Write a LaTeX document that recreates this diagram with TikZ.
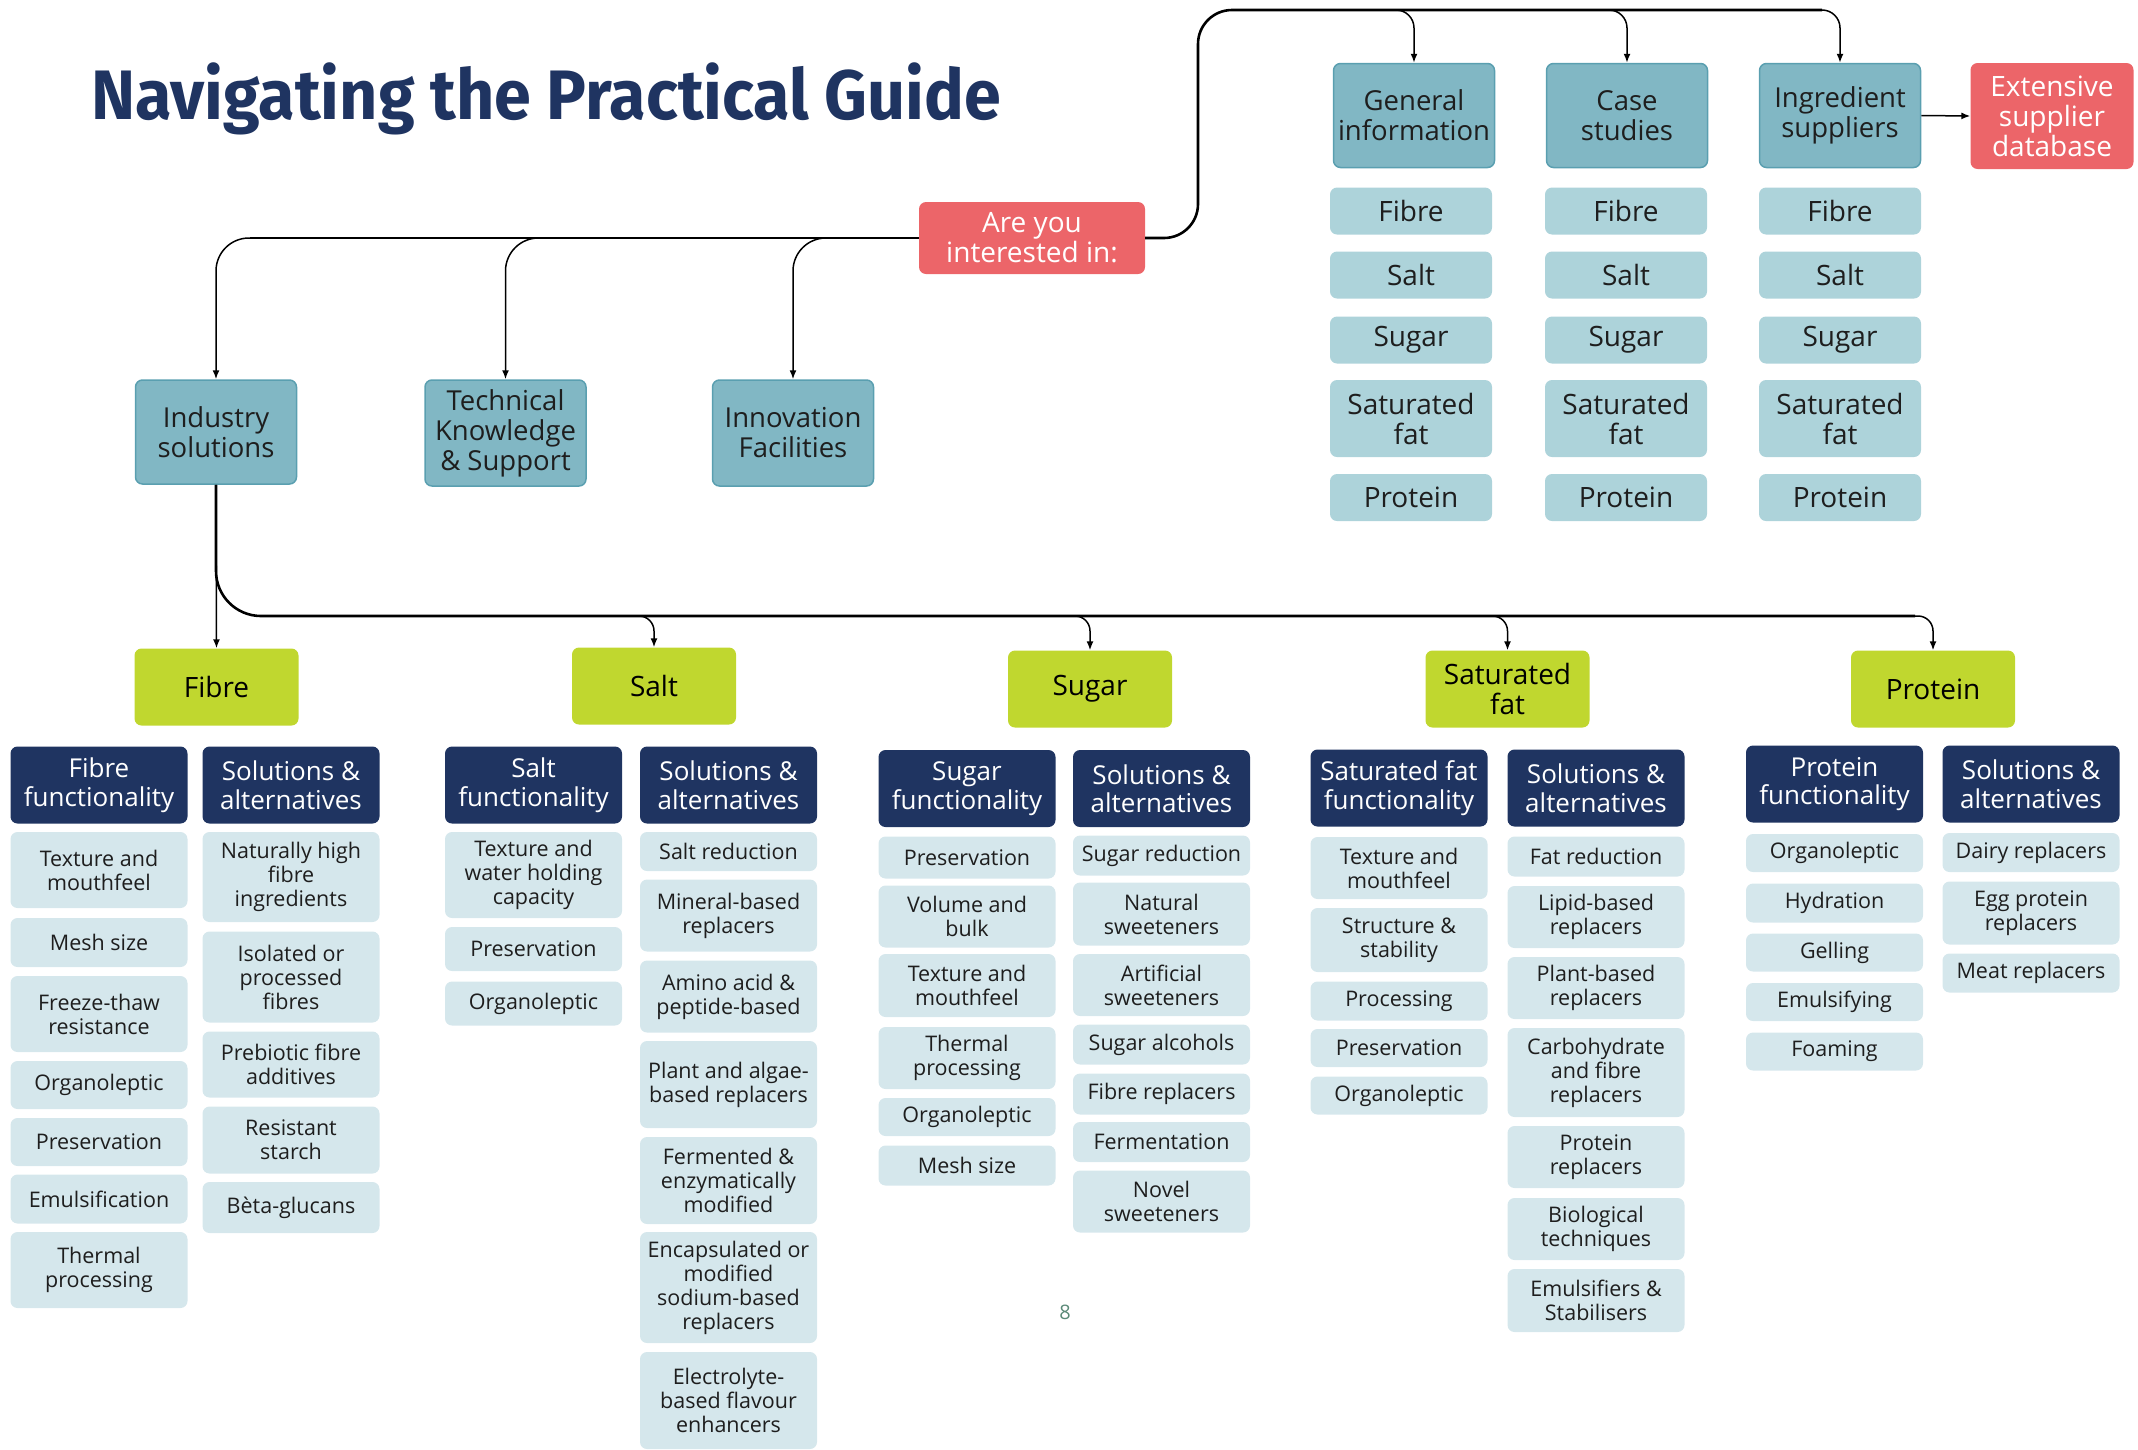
\documentclass[tikz,border=0pt]{standalone}
\usepackage{fontspec}
\setmainfont{Open Sans}
\newfontfamily\titlefont{Fira Sans}[FakeStretch=0.95]
\usetikzlibrary{positioning, arrows.meta}

\definecolor{navy}{HTML}{1F3461}
\definecolor{askred}{HTML}{EC6569}
\definecolor{tealbox}{HTML}{81B7C4}
\definecolor{tealedge}{HTML}{5A9FB0}
\definecolor{subblue}{HTML}{ADD3DA}
\definecolor{paleblue}{HTML}{D5E7EC}
\definecolor{lime}{HTML}{C0D72F}
\definecolor{pagegreen}{HTML}{5B8A78}
\definecolor{ink}{HTML}{1E1E1E}

\begin{document}
\begin{tikzpicture}[
    x=1pt, y=-1pt,
    box/.style={rounded corners=7pt, align=center, inner sep=1pt},
    ask/.style={box, fill=askred, text=white, minimum width=226, minimum height=72, font=\fontsize{28}{30}\selectfont},
    topic/.style={box, fill=tealbox, draw=tealedge, line width=1.5pt, text=ink, minimum width=161, minimum height=104, font=\fontsize{27.5}{30}\selectfont},
    subtopic/.style={box, fill=subblue, text=ink, minimum width=162, minimum height=47, font=\fontsize{28}{30}\selectfont},
    nutrient/.style={box, fill=lime, text=black, minimum width=164, minimum height=77, font=\fontsize{28}{30}\selectfont},
    colhead/.style={box, fill=navy, text=white, minimum width=177, minimum height=77, font=\fontsize{26}{28.5}\selectfont},
    item/.style={box, fill=paleblue, text=ink, minimum width=177, font=\fontsize{21.5}{24}\selectfont},
    link/.style={draw=black, line width=1.5pt, -{Latex[length=9pt,width=7pt]}},
    trunk/.style={draw=black, line width=2.6pt}
]
    \useasboundingbox (0,0) rectangle (2138,1449);

    % Title
    \node[anchor=base west, inner sep=0, text=navy, font=\titlefont\bfseries\fontsize{70}{80}\selectfont] (title) at (91,119) {Navigating the Practical Guide};

    % Question and main topics
    \node[ask] (ask) at (1032,238) {Are you\\interested in:};
    \node[topic] (gen) at (1414,115.5) {General\\information};
    \node[topic] (cas) at (1627,115.5) {Case\\studies};
    \node[topic] (ing) at (1840,115.5) {Ingredient\\suppliers};
    \node[ask, minimum width=163, minimum height=106] (ext) at (2052,116) {Extensive\\supplier\\database};
    \node[topic] (ind) at (216,432) {Industry\\solutions};
    \node[topic, minimum height=106] (tech) at (505.5,433) {Technical\\Knowledge\\\& Support};
    \node[topic, minimum height=106] (inno) at (793,433) {Innovation\\Facilities};

    % Topic columns under the top boxes
    \foreach \col/\x in {gen/1411, cas/1626, ing/1840}{
        \node[subtopic] (\col-fibre) at (\x,211) {Fibre};
        \node[subtopic] (\col-salt) at (\x,275) {Salt};
        \node[subtopic] (\col-sugar) at (\x,340) {Sugar};
        \node[subtopic, minimum height=77] (\col-satfat) at (\x,418.5) {Saturated\\fat};
        \node[subtopic] (\col-protein) at (\x,497.5) {Protein};
    }

    % Nutrients
    \node[nutrient] (fib) at (216.5,687) {Fibre};
    \node[nutrient] (sal) at (654,686) {Salt};
    \node[nutrient] (sug) at (1090,689) {Sugar};
    \node[nutrient] (sfa) at (1507.5,689) {Saturated\\fat};
    \node[nutrient] (pro) at (1933,689) {Protein};

    % Fibre
    \node[colhead] (fibfun) at (99,785) {Fibre\\functionality};
    \node[colhead] (fibsol) at (291,785) {Solutions \&\\alternatives};
    \node[item, minimum height=76] (fibfun1) at (99,870) {Texture and\\mouthfeel};
    \node[item, minimum height=49] (fibfun2) at (99,942.5) {Mesh size};
    \node[item, minimum height=76] (fibfun3) at (99,1014) {Freeze-thaw\\resistance};
    \node[item, minimum height=48] (fibfun4) at (99,1085) {Organoleptic};
    \node[item, minimum height=48] (fibfun5) at (99,1142) {Preservation};
    \node[item, minimum height=49] (fibfun6) at (99,1199) {Emulsification};
    \node[item, minimum height=76] (fibfun7) at (99,1270) {Thermal\\processing};
    \node[item, minimum height=90] (fibsol1) at (291,877) {Naturally high\\fibre\\ingredients};
    \node[item, minimum height=91] (fibsol2) at (291,977) {Isolated or\\processed\\fibres};
    \node[item, minimum height=66] (fibsol3) at (291,1064.5) {Prebiotic fibre\\additives};
    \node[item, minimum height=67] (fibsol4) at (291,1140) {Resistant\\starch};
    \node[item, minimum height=51] (fibsol5) at (291,1207.5) {Bèta-glucans};

    % Salt
    \node[colhead] (salfun) at (533.5,785) {Salt\\functionality};
    \node[colhead] (salsol) at (728.5,785) {Solutions \&\\alternatives};
    \node[item, minimum height=86] (salfun1) at (533.5,875) {Texture and\\water holding\\capacity};
    \node[item, minimum height=44] (salfun2) at (533.5,949) {Preservation};
    \node[item, minimum height=44] (salfun3) at (533.5,1003.5) {Organoleptic};
    \node[item, minimum height=39] (salsol1) at (728.5,851.5) {Salt reduction};
    \node[item, minimum height=72] (salsol2) at (728.5,915.5) {Mineral-based\\replacers};
    \node[item, minimum height=72] (salsol3) at (728.5,996.5) {Amino acid \&\\peptide-based};
    \node[item, minimum height=87] (salsol4) at (728.5,1084.5) {Plant and algae-\\based replacers};
    \node[item, minimum height=87] (salsol5) at (728.5,1180.5) {Fermented \&\\enzymatically\\modified};
    \node[item, minimum height=111] (salsol6) at (728.5,1287.5) {Encapsulated or\\modified\\sodium-based\\replacers};
    \node[item, minimum height=97] (salsol7) at (728.5,1400.5) {Electrolyte-\\based flavour\\enhancers};

    % Sugar
    \node[colhead] (sugfun) at (967,788.5) {Sugar\\functionality};
    \node[colhead] (sugsol) at (1161.5,788.5) {Solutions \&\\alternatives};
    \node[item, minimum height=42] (sugfun1) at (967,857.5) {Preservation};
    \node[item, minimum height=62] (sugfun2) at (967,916.5) {Volume and\\bulk};
    \node[item, minimum height=63] (sugfun3) at (967,985.5) {Texture and\\mouthfeel};
    \node[item, minimum height=62] (sugfun4) at (967,1058) {Thermal\\processing};
    \node[item, minimum height=38] (sugfun5) at (967,1117) {Organoleptic};
    \node[item, minimum height=40] (sugfun6) at (967,1165.5) {Mesh size};
    \node[item, minimum height=40] (sugsol1) at (1161.5,855.5) {Sugar reduction};
    \node[item, minimum height=63] (sugsol2) at (1161.5,914) {Natural\\sweeteners};
    \node[item, minimum height=62] (sugsol3) at (1161.5,985) {Artificial\\sweeteners};
    \node[item, minimum height=40] (sugsol4) at (1161.5,1044.5) {Sugar alcohols};
    \node[item, minimum height=41] (sugsol5) at (1161.5,1094) {Fibre replacers};
    \node[item, minimum height=40] (sugsol6) at (1161.5,1142) {Fermentation};
    \node[item, minimum height=62] (sugsol7) at (1161.5,1201.5) {Novel\\sweeteners};

    % Saturated fat
    \node[colhead] (sfafun) at (1399,788) {Saturated fat\\functionality};
    \node[colhead] (sfasol) at (1596,788) {Solutions \&\\alternatives};
    \node[item, minimum height=62] (sfafun1) at (1399,868) {Texture and\\mouthfeel};
    \node[item, minimum height=64] (sfafun2) at (1399,940) {Structure \&\\stability};
    \node[item, minimum height=39] (sfafun3) at (1399,1001) {Processing};
    \node[item, minimum height=38] (sfafun4) at (1399,1048) {Preservation};
    \node[item, minimum height=38] (sfafun5) at (1399,1095.5) {Organoleptic};
    \node[item, minimum height=40] (sfasol1) at (1596,856.5) {Fat reduction};
    \node[item, minimum height=62] (sfasol2) at (1596,917) {Lipid-based\\replacers};
    \node[item, minimum height=62] (sfasol3) at (1596,988) {Plant-based\\replacers};
    \node[item, minimum height=89] (sfasol4) at (1596,1072.5) {Carbohydrate\\and fibre\\replacers};
    \node[item, minimum height=62] (sfasol5) at (1596,1157) {Protein\\replacers};
    \node[item, minimum height=62] (sfasol6) at (1596,1229) {Biological\\techniques};
    \node[item, minimum height=63] (sfasol7) at (1596,1300.5) {Emulsifiers \&\\Stabilisers};

    % Protein
    \node[colhead] (profun) at (1834.5,784) {Protein\\functionality};
    \node[colhead] (prosol) at (2031,784) {Solutions \&\\alternatives};
    \node[item, minimum height=38] (profun1) at (1834.5,853) {Organoleptic};
    \node[item, minimum height=39] (profun2) at (1834.5,903) {Hydration};
    \node[item, minimum height=38] (profun3) at (1834.5,952.5) {Gelling};
    \node[item, minimum height=38] (profun4) at (1834.5,1002) {Emulsifying};
    \node[item, minimum height=38] (profun5) at (1834.5,1051.5) {Foaming};
    \node[item, minimum height=39] (prosol1) at (2031,852.5) {Dairy replacers};
    \node[item, minimum height=63] (prosol2) at (2031,913) {Egg protein\\replacers};
    \node[item, minimum height=39] (prosol3) at (2031,973) {Meat replacers};

    \node[text=pagegreen, font=\fontsize{20}{24}\selectfont] (pagenum) at (1065,1312) {8};

    % Connectors, top right
    \coordinate (askturn) at (1198,10);
    \coordinate (topend) at (1822,10);
    \coordinate (genfork) at (1390,10);
    \coordinate (casfork) at (1603,10);
    \coordinate (ingfork) at (1816,10);
    \draw[trunk, rounded corners=34] (ask.east) -| (askturn) -- (topend);
    \draw[link, rounded corners=18] (genfork) -| (gen.north);
    \draw[link, rounded corners=18] (casfork) -| (cas.north);
    \draw[link, rounded corners=18] (ingfork) -| (ing.north);
    \draw[link] (ing.east) -- (ext.west);

    % Connectors, left
    \coordinate (leftend) at (250,238);
    \draw[trunk] (ask.west) -- (leftend);
    \draw[link, rounded corners=33] (ask.west) -| (ind.north);
    \draw[link, rounded corners=33] (ask.west) -| (tech.north);
    \draw[link, rounded corners=33] (ask.west) -| (inno.north);

    % Connectors, nutrients
    \coordinate (indbus) at (216,616);
    \coordinate (busend) at (1915,616);
    \coordinate (salfork) at (636,616);
    \coordinate (sugfork) at (1072,616);
    \coordinate (sfafork) at (1489,616);
    \coordinate (profork) at (1915,616);
    \draw[link] (ind.south) -- (fib.north);
    \draw[trunk, rounded corners=45] (ind.south) -- (indbus) -- (busend);
    \draw[link, rounded corners=15] (salfork) -| (sal.north);
    \draw[link, rounded corners=15] (sugfork) -| (sug.north);
    \draw[link, rounded corners=15] (sfafork) -| (sfa.north);
    \draw[link, rounded corners=15] (profork) -| (pro.north);
\end{tikzpicture}
\end{document}
